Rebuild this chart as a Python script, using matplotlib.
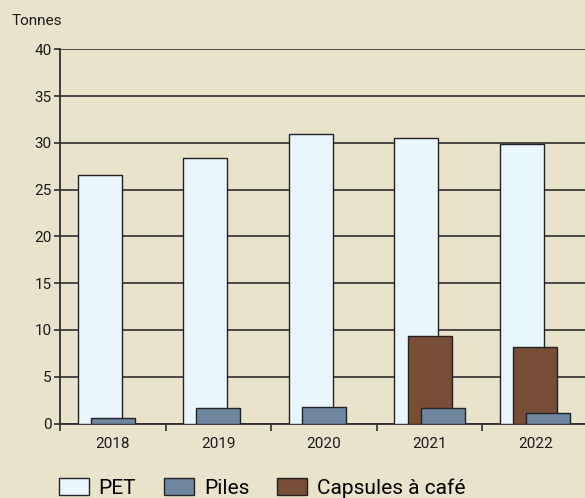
import matplotlib.pyplot as plt
from matplotlib.patches import Patch
import numpy as np

# data
years = ['2018', '2019', '2020', '2021', '2022']
pet = [26.6, 28.4, 30.9, 30.5, 29.9]
piles = [0.64, 1.64, 1.78, 1.64, 1.1]
capsules = [np.nan, np.nan, np.nan, 9.34, 8.13]
series_names = ['PET', 'Piles', 'Capsules à café']

bg = '#eae3cb'
c_pet = '#eaf6fd'
c_piles = '#6f86a0'
c_caps = '#774d36'
edge = '#222222'
grid_c = '#2e2e2e'

plt.rcParams['font.family'] = ['Roboto', 'DejaVu Sans']

fig = plt.figure(figsize=(5.85, 4.98), dpi=100, facecolor=bg)
W, H = 585, 498
ax = fig.add_axes([60 / W, (H - 423.5) / H, 528 / W, (423.5 - 49.3) / H])
ax.set_facecolor(bg)

x = np.arange(len(years))
bw = 0.417
step = 0.125

# PET wide bar behind, capsules and piles step to the right
ax.bar(x - step, pet, bw, color=c_pet, edgecolor=edge, linewidth=1.0, zorder=3)
caps_arr = np.array(capsules)
ax.bar(x, caps_arr, bw, color=c_caps, edgecolor=edge, linewidth=1.0, zorder=4)
piles_off = np.where(np.isnan(caps_arr), 0.0, step)
ax.bar(x + piles_off, piles, bw, color=c_piles, edgecolor=edge, linewidth=1.0, zorder=5)

ax.set_ylim(0, 40)
ax.set_xlim(-0.5, len(years) - 0.5)
ax.set_yticks(np.arange(0, 41, 5))
ax.yaxis.grid(True, color=grid_c, linewidth=1.2, zorder=1)
ax.set_axisbelow(True)

ax.set_xticks(x)
ax.set_xticklabels(years)
ax.set_xticks(np.arange(-0.5, len(years), 1.0), minor=True)
ax.tick_params(axis='x', which='major', length=0, pad=10, labelsize=11, colors='#1a1a1a')
ax.tick_params(axis='x', which='minor', length=5, width=1.2, color=grid_c, direction='out')
ax.tick_params(axis='y', length=4, width=1.2, color=grid_c, pad=2, labelsize=11, labelcolor='#1a1a1a')

for s in ['top', 'right']:
    ax.spines[s].set_visible(False)
for s in ['left', 'bottom']:
    ax.spines[s].set_color(grid_c)
    ax.spines[s].set_linewidth(1.3)

fig.text(12 / W, 1 - 21 / H, 'Tonnes', fontsize=11, va='center', ha='left', color='#1a1a1a')

handles = [Patch(facecolor=c, edgecolor=edge, linewidth=1.0) for c in (c_pet, c_piles, c_caps)]
fig.legend(handles, series_names, loc='lower left', bbox_to_anchor=(59 / W, 0 / H),
           ncol=3, frameon=False, fontsize=15, handlelength=1.45, handleheight=0.85,
           handletextpad=0.45, columnspacing=1.35, borderpad=0, borderaxespad=0)

fig.savefig('out.png', dpi=100, facecolor=bg)
